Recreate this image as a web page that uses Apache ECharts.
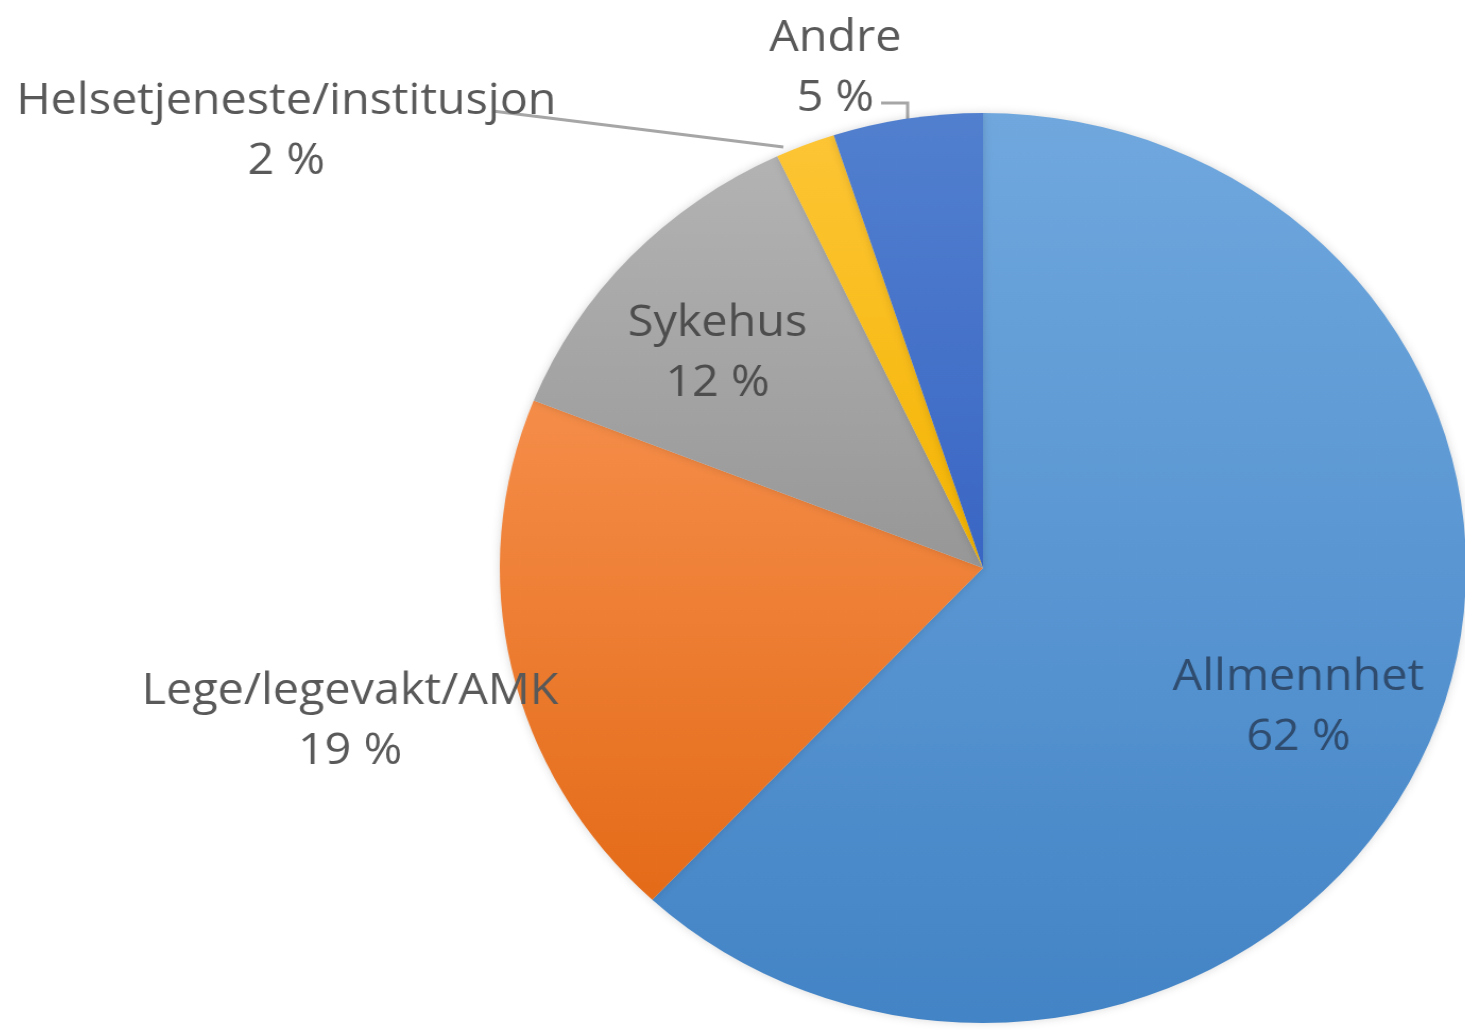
<!DOCTYPE html>
<html>
<head>
<meta charset="utf-8">
<script src="https://cdn.jsdelivr.net/npm/echarts@6/dist/echarts.min.js"></script>
<style>
html,body{margin:0;padding:0;background:#fff;overflow:hidden;}
/* the reference pie is slightly wider than tall: stretch horizontally */
#chart{width:1465px;height:1030px;transform:scaleX(1.062);transform-origin:983px 0;}
</style>
</head>
<body>
<div id="chart"></div>
<script>
// ---- data ----
const categories = ['Allmennhet', 'Lege/legevakt/AMK', 'Sykehus', 'Helsetjeneste/institusjon', 'Andre'];
const percentages = [62, 19, 12, 2, 5];

// ---- styles ----
const colorsTop = ['#70a8de', '#f58d49', '#b3b3b3', '#fdc535', '#5280cf'];
const colorsBottom = ['#4384c6', '#e46b18', '#979797', '#f4b400', '#3a66c4'];
const labelColors = ['#2f4c6e', '#595959', '#4d4d4d', '#595959', '#595959'];
// label anchor positions (center of label block) and leader lines
const labelPos = [[1280, 707], [387, 721], [733, 353], [327, 131], [844, 68]];
const leaderLines = [null, null, null,
  [[521, 111], [521, 111], [795, 147]],
  [[887, 103], [912, 103], [912, 119]]];

const chart = echarts.init(document.getElementById('chart'), null, {renderer: 'canvas'});

const data = categories.map((name, i) => ({
  name: name,
  value: percentages[i],
  itemStyle: {
    color: new echarts.graphic.LinearGradient(0, 0, 0, 1, [
      {offset: 0, color: colorsTop[i]},
      {offset: 1, color: colorsBottom[i]}
    ])
  },
  label: {color: labelColors[i]},
  labelLine: {show: leaderLines[i] !== null}
}));

chart.setOption({
  animation: false,
  backgroundColor: '#ffffff',
  series: [{
    type: 'pie',
    center: [983, 568],
    radius: [0, 455],
    startAngle: 90,
    clockwise: true,
    avoidLabelOverlap: false,
    data: data,
    itemStyle: {borderWidth: 0, shadowBlur: 8, shadowColor: 'rgba(0,0,0,0.15)'},
    label: {
      show: true,
      position: 'outside',
      formatter: '{b}\n{c} %',
      fontFamily: '"Open Sans", "Noto Sans", sans-serif',
      fontSize: 44,
      lineHeight: 60,
      align: 'center'
    },
    labelLine: {
      show: true,
      lineStyle: {color: '#a6a6a6', width: 3}
    },
    labelLayout: function (params) {
      const i = params.dataIndex;
      const res = {
        x: labelPos[i][0],
        y: labelPos[i][1],
        align: 'center',
        verticalAlign: 'middle'
      };
      if (leaderLines[i]) res.labelLinePoints = leaderLines[i];
      return res;
    }
  }]
});
</script>
</body>
</html>
